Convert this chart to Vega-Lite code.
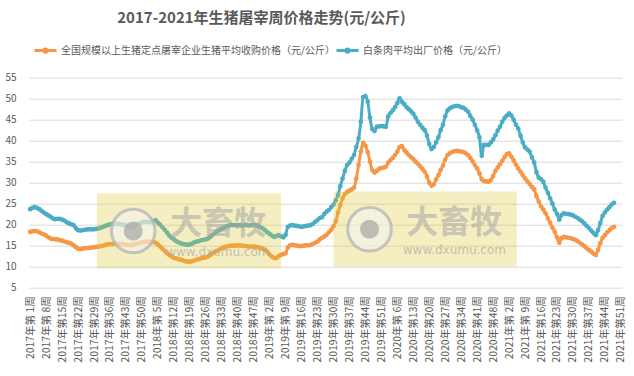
{
  "$schema": "https://vega.github.io/schema/vega-lite/v6.json",
  "autosize": {"type": "none"},
  "width": 593,
  "height": 210,
  "padding": {"left": 29, "top": 77.7, "right": 12, "bottom": 88.3},
  "background": "white",
  "config": {"view": {"stroke": null}, "font": "Noto Sans CJK SC", "axis": {"labelOverlap": false, "labelFlush": false, "labelBound": false}},
  "title": {
    "text": "2017-2021年生猪屠宰周价格走势(元/公斤)",
    "fontSize": 15, "fontWeight": "bold", "color": "#595959", "font": "Noto Sans CJK SC",
    "anchor": "middle", "frame": "group", "dx": -64, "offset": 12
  },
  "resolve": {"axis": {"x": "independent", "y": "independent"}},
  "layer": [
    {
      "data": {"values": [
{"i":0,"a":18.3,"b":23.7},{"i":1,"a":18.4,"b":24.0},{"i":2,"a":18.5,"b":24.2},{"i":3,"a":18.4,"b":24.0},{"i":4,"a":18.2,"b":23.7},
{"i":5,"a":17.9,"b":23.3},{"i":6,"a":17.7,"b":22.9},{"i":7,"a":17.4,"b":22.5},{"i":8,"a":17.0,"b":22.2},{"i":9,"a":16.7,"b":21.9},
{"i":10,"a":16.6,"b":21.5},{"i":11,"a":16.5,"b":21.3},{"i":12,"a":16.5,"b":21.4},{"i":13,"a":16.3,"b":21.4},{"i":14,"a":16.2,"b":21.2},
{"i":15,"a":16.0,"b":21.0},{"i":16,"a":15.8,"b":20.6},{"i":17,"a":15.7,"b":20.3},{"i":18,"a":15.5,"b":20.1},{"i":19,"a":15.1,"b":19.9},
{"i":20,"a":14.7,"b":19.2},{"i":21,"a":14.3,"b":18.7},{"i":22,"a":14.2,"b":18.6},{"i":23,"a":14.3,"b":18.7},{"i":24,"a":14.4,"b":18.8},
{"i":25,"a":14.4,"b":18.9},{"i":26,"a":14.5,"b":18.9},{"i":27,"a":14.6,"b":18.9},{"i":28,"a":14.6,"b":18.9},{"i":29,"a":14.7,"b":19.0},
{"i":30,"a":14.8,"b":19.1},{"i":31,"a":14.9,"b":19.3},{"i":32,"a":15.0,"b":19.5},{"i":33,"a":15.2,"b":19.7},{"i":34,"a":15.3,"b":19.9},
{"i":35,"a":15.4,"b":20.1},{"i":36,"a":15.4,"b":20.2},{"i":37,"a":15.5,"b":20.2},{"i":38,"a":15.4,"b":20.2},{"i":39,"a":15.4,"b":20.2},
{"i":40,"a":15.4,"b":20.1},{"i":41,"a":15.3,"b":20.0},{"i":42,"a":15.2,"b":19.8},{"i":43,"a":15.2,"b":19.7},{"i":44,"a":15.1,"b":19.5},
{"i":45,"a":15.2,"b":19.5},{"i":46,"a":15.4,"b":19.8},{"i":47,"a":15.5,"b":20.1},{"i":48,"a":15.7,"b":20.3},{"i":49,"a":15.8,"b":20.5},
{"i":50,"a":15.9,"b":20.7},{"i":51,"a":15.9,"b":20.7},{"i":52,"a":16.0,"b":20.6},{"i":53,"a":15.9,"b":20.6},{"i":54,"a":15.9,"b":20.8},
{"i":55,"a":15.7,"b":21.1},{"i":56,"a":15.3,"b":20.5},{"i":57,"a":14.8,"b":20.0},{"i":58,"a":14.3,"b":19.4},{"i":59,"a":13.8,"b":18.8},
{"i":60,"a":13.2,"b":18.1},{"i":61,"a":12.8,"b":17.4},{"i":62,"a":12.5,"b":16.9},{"i":63,"a":12.1,"b":16.5},{"i":64,"a":12.0,"b":16.1},
{"i":65,"a":11.8,"b":15.8},{"i":66,"a":11.7,"b":15.6},{"i":67,"a":11.5,"b":15.4},{"i":68,"a":11.3,"b":15.3},{"i":69,"a":11.2,"b":15.2},
{"i":70,"a":11.2,"b":15.3},{"i":71,"a":11.3,"b":15.5},{"i":72,"a":11.5,"b":15.8},{"i":73,"a":11.7,"b":16.0},{"i":74,"a":11.8,"b":16.1},
{"i":75,"a":12.0,"b":16.3},{"i":76,"a":12.1,"b":16.4},{"i":77,"a":12.2,"b":16.5},{"i":78,"a":12.4,"b":16.7},{"i":79,"a":12.8,"b":17.1},
{"i":80,"a":13.2,"b":17.6},{"i":81,"a":13.5,"b":18.0},{"i":82,"a":13.8,"b":18.4},{"i":83,"a":14.1,"b":18.7},{"i":84,"a":14.4,"b":19.0},
{"i":85,"a":14.6,"b":19.3},{"i":86,"a":14.8,"b":19.6},{"i":87,"a":14.9,"b":19.8},{"i":88,"a":15.0,"b":19.9},{"i":89,"a":15.0,"b":19.9},
{"i":90,"a":15.0,"b":19.9},{"i":91,"a":15.1,"b":19.9},{"i":92,"a":15.0,"b":19.9},{"i":93,"a":15.0,"b":19.8},{"i":94,"a":14.9,"b":19.9},
{"i":95,"a":14.9,"b":19.9},{"i":96,"a":14.8,"b":19.8},{"i":97,"a":14.8,"b":19.9},{"i":98,"a":14.8,"b":19.9},{"i":99,"a":14.7,"b":19.9},
{"i":100,"a":14.6,"b":19.7},{"i":101,"a":14.5,"b":19.4},{"i":102,"a":14.3,"b":19.1},{"i":103,"a":14.0,"b":18.7},{"i":104,"a":13.5,"b":18.2},
{"i":105,"a":12.9,"b":17.8},{"i":106,"a":12.4,"b":17.4},{"i":107,"a":12.1,"b":17.1},{"i":108,"a":12.1,"b":17.3},{"i":109,"a":12.5,"b":17.5},
{"i":110,"a":12.8,"b":17.2},{"i":111,"a":13.0,"b":17.0},{"i":112,"a":13.2,"b":17.6},{"i":113,"a":14.6,"b":19.5},{"i":114,"a":15.1,"b":19.8},
{"i":115,"a":15.2,"b":19.9},{"i":116,"a":15.1,"b":19.8},{"i":117,"a":15.0,"b":19.7},{"i":118,"a":14.9,"b":19.6},{"i":119,"a":14.9,"b":19.5},
{"i":120,"a":15.0,"b":19.6},{"i":121,"a":15.1,"b":19.7},{"i":122,"a":15.1,"b":19.8},{"i":123,"a":15.2,"b":19.9},{"i":124,"a":15.4,"b":20.2},
{"i":125,"a":15.7,"b":20.7},{"i":126,"a":16.0,"b":21.1},{"i":127,"a":16.5,"b":21.6},{"i":128,"a":16.9,"b":21.8},{"i":129,"a":17.2,"b":22.6},
{"i":130,"a":17.6,"b":23.1},{"i":131,"a":18.2,"b":23.5},{"i":132,"a":18.8,"b":24.2},{"i":133,"a":19.6,"b":24.8},{"i":134,"a":20.8,"b":25.8},
{"i":135,"a":22.9,"b":27.1},{"i":136,"a":24.7,"b":29.2},{"i":137,"a":26.3,"b":31.0},{"i":138,"a":27.3,"b":32.8},{"i":139,"a":27.8,"b":34.2},
{"i":140,"a":28.1,"b":34.8},{"i":141,"a":28.4,"b":35.7},{"i":142,"a":28.8,"b":36.6},{"i":143,"a":31.0,"b":38.5},{"i":144,"a":34.2,"b":40.5},
{"i":145,"a":37.4,"b":44.5},{"i":146,"a":39.5,"b":50.4},{"i":147,"a":38.8,"b":50.6},{"i":148,"a":37.3,"b":49.3},{"i":149,"a":35.0,"b":45.5},
{"i":150,"a":33.0,"b":42.8},{"i":151,"a":32.4,"b":42.3},{"i":152,"a":32.8,"b":43.3},{"i":153,"a":33.3,"b":43.4},{"i":154,"a":33.5,"b":43.5},
{"i":155,"a":33.6,"b":43.4},{"i":156,"a":33.8,"b":43.3},{"i":157,"a":34.8,"b":45.8},{"i":158,"a":35.4,"b":46.6},{"i":159,"a":35.9,"b":47.2},
{"i":160,"a":36.6,"b":48.0},{"i":161,"a":37.4,"b":49.0},{"i":162,"a":38.5,"b":50.1},{"i":163,"a":38.7,"b":49.3},{"i":164,"a":37.8,"b":48.7},
{"i":165,"a":37.2,"b":48.0},{"i":166,"a":36.6,"b":47.5},{"i":167,"a":36.1,"b":47.0},{"i":168,"a":35.6,"b":46.4},{"i":169,"a":35.0,"b":45.5},
{"i":170,"a":34.5,"b":44.5},{"i":171,"a":33.9,"b":43.8},{"i":172,"a":33.3,"b":43.1},{"i":173,"a":32.6,"b":42.5},{"i":174,"a":31.5,"b":41.2},
{"i":175,"a":30.0,"b":39.2},{"i":176,"a":29.3,"b":38.0},{"i":177,"a":29.6,"b":38.5},{"i":178,"a":30.8,"b":39.6},{"i":179,"a":31.8,"b":40.8},
{"i":180,"a":33.0,"b":42.5},{"i":181,"a":34.1,"b":43.8},{"i":182,"a":35.5,"b":45.8},{"i":183,"a":36.6,"b":47.2},{"i":184,"a":37.0,"b":47.7},
{"i":185,"a":37.3,"b":48.0},{"i":186,"a":37.5,"b":48.2},{"i":187,"a":37.6,"b":48.3},{"i":188,"a":37.5,"b":48.2},{"i":189,"a":37.4,"b":48.0},
{"i":190,"a":37.3,"b":47.8},{"i":191,"a":37.0,"b":47.4},{"i":192,"a":36.6,"b":46.9},{"i":193,"a":35.9,"b":45.9},{"i":194,"a":35.1,"b":45.0},
{"i":195,"a":34.2,"b":43.8},{"i":196,"a":33.4,"b":42.4},{"i":197,"a":32.2,"b":40.8},{"i":198,"a":30.8,"b":36.4},{"i":199,"a":30.4,"b":39.0},
{"i":200,"a":30.3,"b":39.0},{"i":201,"a":30.2,"b":39.0},{"i":202,"a":30.6,"b":39.6},{"i":203,"a":31.6,"b":40.3},{"i":204,"a":32.8,"b":41.3},
{"i":205,"a":33.6,"b":42.4},{"i":206,"a":34.4,"b":43.3},{"i":207,"a":35.2,"b":44.5},{"i":208,"a":36.1,"b":45.4},{"i":209,"a":36.8,"b":46.0},
{"i":210,"a":37.0,"b":46.5},{"i":211,"a":36.2,"b":46.0},{"i":212,"a":35.3,"b":45.0},{"i":213,"a":34.3,"b":43.8},{"i":214,"a":33.4,"b":42.9},
{"i":215,"a":32.6,"b":41.2},{"i":216,"a":31.8,"b":39.6},{"i":217,"a":31.0,"b":38.4},{"i":218,"a":30.3,"b":37.9},{"i":219,"a":29.7,"b":37.4},
{"i":220,"a":29.0,"b":36.0},{"i":221,"a":28.4,"b":34.8},{"i":222,"a":26.8,"b":32.5},{"i":223,"a":25.5,"b":31.2},{"i":224,"a":24.4,"b":30.8},
{"i":225,"a":23.6,"b":30.2},{"i":226,"a":22.7,"b":28.8},{"i":227,"a":21.5,"b":27.6},{"i":228,"a":20.5,"b":26.3},{"i":229,"a":19.3,"b":25.0},
{"i":230,"a":18.3,"b":23.6},{"i":231,"a":17.0,"b":22.6},{"i":232,"a":15.7,"b":21.2},{"i":233,"a":16.8,"b":22.3},{"i":234,"a":17.1,"b":22.7},
{"i":235,"a":17.0,"b":22.6},{"i":236,"a":16.9,"b":22.5},{"i":237,"a":16.8,"b":22.4},{"i":238,"a":16.6,"b":22.2},{"i":239,"a":16.4,"b":21.9},
{"i":240,"a":16.1,"b":21.6},{"i":241,"a":15.7,"b":21.2},{"i":242,"a":15.3,"b":20.8},{"i":243,"a":14.9,"b":20.3},{"i":244,"a":14.4,"b":19.7},
{"i":245,"a":14.0,"b":19.2},{"i":246,"a":13.6,"b":18.6},{"i":247,"a":13.1,"b":18.0},{"i":248,"a":12.8,"b":17.5},{"i":249,"a":14.0,"b":18.7},
{"i":250,"a":15.6,"b":20.4},{"i":251,"a":16.9,"b":22.1},{"i":252,"a":17.5,"b":22.9},{"i":253,"a":18.2,"b":23.6},{"i":254,"a":18.7,"b":24.2},
{"i":255,"a":19.2,"b":24.8},{"i":256,"a":19.5,"b":25.2}
      ]},
      "transform": [{"fold": ["a", "b"], "as": ["series", "value"]}],
      "mark": {"type": "line", "strokeWidth": 3, "interpolate": "monotone", "point": {"size": 22, "filled": true, "opacity": 1}},
      "encoding": {
        "x": {
          "field": "i", "type": "quantitative",
          "scale": {"domain": [-0.5, 259.5], "nice": false, "zero": false},
          "axis": {
            "title": null, "grid": false, "domain": false, "ticks": false,
            "values": [0,7,14,21,28,35,42,49,56,63,70,77,84,91,98,105,112,119,126,133,140,147,154,161,168,175,182,189,196,203,210,217,224,231,238,245,252,259],
            "labelExpr": "(datum.value < 52 ? '2017' : datum.value < 104 ? '2018' : datum.value < 156 ? '2019' : datum.value < 209 ? '2020' : '2021') + '年第' + ((datum.value < 52 ? datum.value + 1 : datum.value < 104 ? datum.value - 51 : datum.value < 156 ? datum.value - 103 : datum.value < 209 ? datum.value - 155 : datum.value - 208) < 10 ? ' ' : '') + (datum.value < 52 ? datum.value + 1 : datum.value < 104 ? datum.value - 51 : datum.value < 156 ? datum.value - 103 : datum.value < 209 ? datum.value - 155 : datum.value - 208) + '周'",
            "labelAngle": 270, "labelAlign": "right", "labelBaseline": "middle",
            "labelFontSize": 10.5, "labelColor": "#595959", "labelFont": "Noto Sans CJK SC",
            "labelPadding": 8, "labelOverlap": false, "labelBound": false, "labelFlush": false
          }
        },
        "y": {
          "field": "value", "type": "quantitative",
          "scale": {"domain": [5, 55], "nice": false, "zero": false},
          "axis": {
            "title": null, "values": [5,10,15,20,25,30,35,40,45,50,55],
            "domain": false, "ticks": false, "gridColor": "#D9D9D9", "gridWidth": 1,
            "labelOverlap": false, "labelFlush": false,
            "labelFontSize": 10, "labelColor": "#595959", "labelPadding": 13, "labelFont": "Noto Sans CJK SC"
          }
        },
        "color": {
          "field": "series", "type": "nominal",
          "scale": {"domain": ["a", "b"], "range": ["#F79646", "#4BACC6"]},
          "legend": {
            "title": null, "orient": "none", "direction": "horizontal",
            "legendX": 4, "legendY": -40,
            "labelExpr": "datum.value == 'a' ? '全国规模以上生猪定点屠宰企业生猪平均收购价格（元/公斤）' : '白条肉平均出厂价格（元/公斤）'",
            "labelFontSize": 10, "labelColor": "#595959", "labelFont": "Noto Sans CJK SC", "labelLimit": 400,
            "symbolType": "M-1,0L1,0M-0.15,0A0.15,0.15,0,1,0,0.15,0A0.15,0.15,0,1,0,-0.15,0",
            "symbolSize": 484, "symbolStrokeWidth": 3, "columnPadding": -14, "labelOffset": 3,
            "encode": {"symbols": {"update": {"fill": {"scale": "color", "field": "value"}}}}
          }
        }
      }
    },
    {
      "data": {"values": [{"x1": 29.3, "x2": 110, "y1": 9.6, "y2": 27.5}, {"x1": 133, "x2": 213.3, "y1": 10, "y2": 27.9}]},
      "mark": {"type": "rect", "fill": "#DEC62D", "opacity": 0.3},
      "encoding": {
        "x": {"field": "x1", "type": "quantitative", "axis": null},
        "x2": {"field": "x2"},
        "y": {"field": "y1", "type": "quantitative", "axis": null},
        "y2": {"field": "y2"}
      }
    },
    {
      "data": {"values": [{"x": 45.2, "y": 18.5}, {"x": 148.8, "y": 18.9}]},
      "mark": {"type": "point", "shape": "circle", "size": 1900, "filled": true, "fill": "#F4F4F0", "fillOpacity": 0.6, "stroke": "#B8B8B8", "strokeWidth": 3, "strokeOpacity": 0.8},
      "encoding": {
        "x": {"field": "x", "type": "quantitative", "axis": null},
        "y": {"field": "y", "type": "quantitative", "axis": null}
      }
    },
    {
      "data": {"values": [{"x": 45.2, "y": 18.5}, {"x": 148.8, "y": 18.9}]},
      "mark": {"type": "point", "shape": "circle", "size": 360, "filled": true, "fill": "#ABABAB", "opacity": 0.75},
      "encoding": {
        "x": {"field": "x", "type": "quantitative", "axis": null},
        "y": {"field": "y", "type": "quantitative", "axis": null}
      }
    },
    {
      "data": {"values": [{"x": 82.5, "y": 20.1, "t": "大畜牧"}, {"x": 186, "y": 20.5, "t": "大畜牧"}]},
      "mark": {"type": "text", "fontSize": 32, "fontWeight": "bold", "font": "Noto Sans CJK SC", "fill": "#A6A6A6", "opacity": 0.55, "align": "center", "baseline": "middle"},
      "encoding": {
        "x": {"field": "x", "type": "quantitative", "axis": null},
        "y": {"field": "y", "type": "quantitative", "axis": null},
        "text": {"field": "t"}
      }
    },
    {
      "data": {"values": [{"x": 82.3, "y": 13.5, "t": "www.dxumu.com"}, {"x": 186, "y": 13.9, "t": "www.dxumu.com"}]},
      "mark": {"type": "text", "fontSize": 12, "font": "DejaVu Sans", "fill": "#A8A8A8", "opacity": 0.65, "align": "center", "baseline": "middle"},
      "encoding": {
        "x": {"field": "x", "type": "quantitative", "axis": null},
        "y": {"field": "y", "type": "quantitative", "axis": null},
        "text": {"field": "t"}
      }
    }
  ]
}
